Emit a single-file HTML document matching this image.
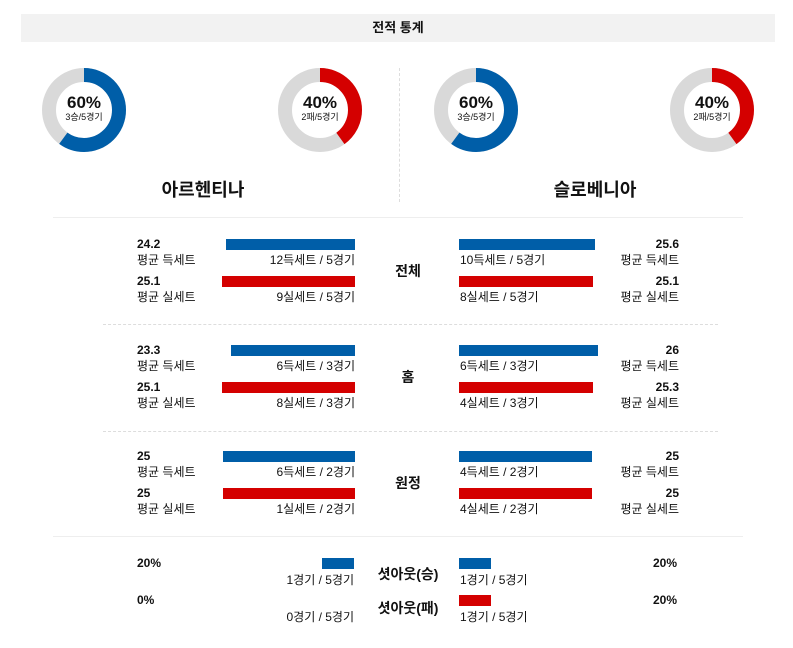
<!DOCTYPE html><html><head><meta charset="utf-8"><style>
body{margin:0;width:793px;height:648px;background:#fff;position:relative;font-family:"Liberation Sans","Noto Sans CJK KR",sans-serif;color:#111;overflow:hidden}
.a{position:absolute;white-space:nowrap}
.hd{left:21px;top:14px;width:754px;height:28px;background:#f2f2f2;text-align:center;line-height:28px;font-size:13px;font-weight:bold}
.b{position:absolute;height:11px}
.bl{background:#005ea8}.rd{background:#d40000}
.v{font-size:12px;font-weight:bold}
.l{font-size:12px}
.c{font-size:12px}
.t{font-size:14px;font-weight:bold}
.dn{position:absolute;width:84px;height:84px}
.dn .p{position:absolute;left:0;top:26px;width:84px;text-align:center;font-size:17px;font-weight:900;line-height:18px}
.dn .s{position:absolute;left:0;top:44px;width:84px;text-align:center;font-size:9px;line-height:10px}
</style></head><body>
<div class="a hd">전적 통계</div>

<div class="dn" style="left:42px;top:68px"><svg width="84" height="84"><circle cx="42" cy="42" r="35" fill="none" stroke="#d9d9d9" stroke-width="14"/><circle cx="42" cy="42" r="35" fill="none" stroke="#005ea8" stroke-width="14" stroke-dasharray="131.9 300" transform="rotate(-90 42 42)"/></svg><div class="p">60%</div><div class="s">3승/5경기</div></div>
<div class="dn" style="left:278px;top:68px"><svg width="84" height="84"><circle cx="42" cy="42" r="35" fill="none" stroke="#d9d9d9" stroke-width="14"/><circle cx="42" cy="42" r="35" fill="none" stroke="#d40000" stroke-width="14" stroke-dasharray="88 300" transform="rotate(-90 42 42)"/></svg><div class="p">40%</div><div class="s">2패/5경기</div></div>
<div class="dn" style="left:434px;top:68px"><svg width="84" height="84"><circle cx="42" cy="42" r="35" fill="none" stroke="#d9d9d9" stroke-width="14"/><circle cx="42" cy="42" r="35" fill="none" stroke="#005ea8" stroke-width="14" stroke-dasharray="131.9 300" transform="rotate(-90 42 42)"/></svg><div class="p">60%</div><div class="s">3승/5경기</div></div>
<div class="dn" style="left:670px;top:68px"><svg width="84" height="84"><circle cx="42" cy="42" r="35" fill="none" stroke="#d9d9d9" stroke-width="14"/><circle cx="42" cy="42" r="35" fill="none" stroke="#d40000" stroke-width="14" stroke-dasharray="88 300" transform="rotate(-90 42 42)"/></svg><div class="p">40%</div><div class="s">2패/5경기</div></div>

<div class="a" style="left:399px;top:68px;height:134px;border-left:1px dashed #ddd"></div>
<div class="a" style="left:103px;top:176px;width:200px;text-align:center;font-size:18px;font-weight:bold">아르헨티나</div>
<div class="a" style="left:495px;top:176px;width:200px;text-align:center;font-size:18px;font-weight:bold">슬로베니아</div>

<div class="a" style="left:53px;top:217px;width:690px;border-top:1px solid #eee"></div>
<div class="a" style="left:103px;top:324px;width:615px;border-top:1px dashed #ddd"></div>
<div class="a" style="left:103px;top:431px;width:615px;border-top:1px dashed #ddd"></div>
<div class="a" style="left:53px;top:536px;width:690px;border-top:1px solid #eee"></div>

<!-- section builder rows -->
<div id="s"></div>
<script>
var S=[
 {y:0,t:"전체",L:[["24.2","평균 득세트",226,"12득세트 / 5경기"],["25.1","평균 실세트",222,"9실세트 / 5경기"]],R:[["25.6","평균 득세트",595,"10득세트 / 5경기"],["25.1","평균 실세트",593,"8실세트 / 5경기"]]},
 {y:106,t:"홈",L:[["23.3","평균 득세트",231,"6득세트 / 3경기"],["25.1","평균 실세트",222,"8실세트 / 3경기"]],R:[["26","평균 득세트",598,"6득세트 / 3경기"],["25.3","평균 실세트",593,"4실세트 / 3경기"]]},
 {y:212,t:"원정",L:[["25","평균 득세트",223,"6득세트 / 2경기"],["25","평균 실세트",223,"1실세트 / 2경기"]],R:[["25","평균 득세트",592,"4득세트 / 2경기"],["25","평균 실세트",592,"4실세트 / 2경기"]]}];
var h="";
S.forEach(function(s){
 for(var i=0;i<2;i++){
  var y=239+s.y+i*37, cls=i?"rd":"bl";
  var l=s.L[i], r=s.R[i];
  h+='<div class="b '+cls+'" style="left:'+l[2]+'px;top:'+y+'px;width:'+(355-l[2])+'px"></div>';
  h+='<div class="b '+cls+'" style="left:459px;top:'+y+'px;width:'+(r[2]-459)+'px"></div>';
  h+='<div class="a v" style="left:137px;top:'+(y-2)+'px">'+l[0]+'</div>';
  h+='<div class="a l" style="left:137px;top:'+(y+12)+'px">'+l[1]+'</div>';
  h+='<div class="a c" style="right:'+(793-355)+'px;top:'+(y+12)+'px">'+l[3]+'</div>';
  h+='<div class="a v" style="right:'+(793-679)+'px;top:'+(y-2)+'px">'+r[0]+'</div>';
  h+='<div class="a l" style="right:'+(793-679)+'px;top:'+(y+12)+'px">'+r[1]+'</div>';
  h+='<div class="a c" style="left:460px;top:'+(y+12)+'px">'+r[3]+'</div>';
 }
 h+='<div class="a t" style="left:358px;width:100px;text-align:center;top:'+(261+s.y)+'px">'+s.t+'</div>';
});
document.getElementById("s").innerHTML=h;
</script>

<div class="b bl" style="left:322px;top:558px;width:32px"></div>
<div class="b bl" style="left:459px;top:558px;width:32px"></div>
<div class="b rd" style="left:459px;top:595px;width:32px"></div>
<div class="a v" style="left:137px;top:556px">20%</div>
<div class="a v" style="left:137px;top:593px">0%</div>
<div class="a v" style="right:116px;top:556px">20%</div>
<div class="a v" style="right:116px;top:593px">20%</div>
<div class="a c" style="right:439px;top:571px">1경기 / 5경기</div>
<div class="a c" style="right:439px;top:608px">0경기 / 5경기</div>
<div class="a c" style="left:460px;top:571px">1경기 / 5경기</div>
<div class="a c" style="left:460px;top:608px">1경기 / 5경기</div>
<div class="a t" style="left:358px;width:100px;text-align:center;top:564px">셧아웃(승)</div>
<div class="a t" style="left:358px;width:100px;text-align:center;top:598px">셧아웃(패)</div>
</body></html>
